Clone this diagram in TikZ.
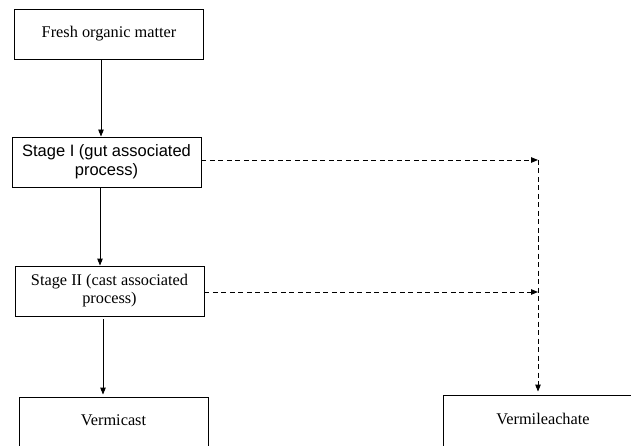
\documentclass[tikz,border=0pt]{standalone}
\usepackage{fontspec}
\setmainfont{Liberation Serif}
\setsansfont{Liberation Sans}
\usetikzlibrary{arrows.meta}
\begin{document}
\begin{tikzpicture}[x=1pt,y=-1pt,
  box/.style={draw,line width=0.9pt,minimum width=189pt,minimum height=50pt,inner sep=0pt,align=center,font=\fontsize{16.3}{18}\selectfont},
  arr/.style={line width=0.9pt,-{Triangle[length=7pt,width=5.5pt]}},
  darr/.style={arr,dash pattern=on 5pt off 3.5pt}]
\useasboundingbox (0,0) rectangle (631,446);
\fill[white] (0,0) rectangle (631,446);
\node[box] (b1) at (109,34) {\raisebox{4pt}{Fresh organic matter}};
\node[box,font=\sffamily\fontsize{16.5}{20}\selectfont] (b2) at (106.5,162) {\raisebox{-2pt}{\begin{tabular}{@{}c@{}}Stage I (gut associated\\[-1pt]process)\end{tabular}}};
\node[box,font=\fontsize{16.3}{19}\selectfont] (b3) at (109.5,291) {\raisebox{-3pt}{\begin{tabular}{@{}c@{}}Stage II (cast associated\\[-1pt]process)\end{tabular}}};
\node[box,minimum height=52pt] (b4) at (113.5,423) {\raisebox{6pt}{Vermicast}};
\node[box,minimum width=200pt,minimum height=52pt] (b5) at (543,421) {\raisebox{4pt}{Vermileachate}};
\coordinate (j1) at (538,160);
\coordinate (j2) at (538,292);
\draw[arr] ([xshift=-8pt]b1.south) -- ([xshift=-8pt]b1.south |- b2.north);
\draw[arr] ([xshift=-6.5pt]b2.south) -- ([xshift=-6.5pt]b2.south |- b3.north);
\draw[arr] ([xshift=-6.5pt,yshift=-3pt]b3.south) -- ([xshift=-10.5pt,yshift=2pt]b4.north);
\draw[darr] (b2.east |- j1) -- (j1);
\draw[darr] (b3.east |- j2) -- (j2);
\draw[darr] (j1) -- ([yshift=3pt]j1 |- b5.north);
\end{tikzpicture}
\end{document}
